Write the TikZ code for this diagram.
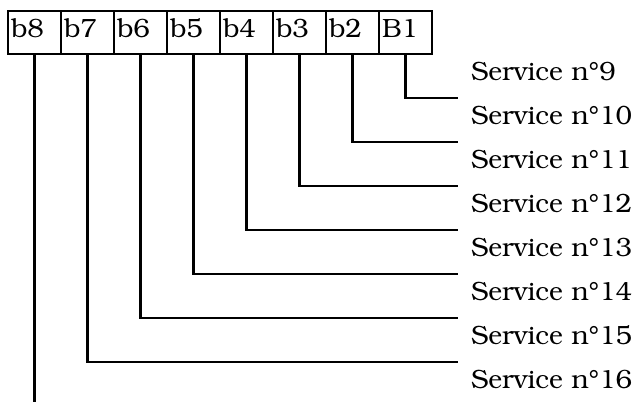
\documentclass[tikz,border=0pt]{standalone}
\usepackage[T1]{fontenc}
\usepackage{bookman}
\usetikzlibrary{positioning}
\tikzset{
  every picture/.style={line width=2.2pt},
  bit/.style={draw, outer sep=0pt, inner xsep=3pt, inner ysep=0pt, text width=47pt,
    text height=26.3pt, text depth=17pt, align=left, font=\fontsize{26.4}{30}\selectfont},
  service/.style={outer sep=0pt, inner xsep=13pt, inner ysep=0pt, text height=26pt,
    text depth=18pt, font=\fontsize{26.4}{30}\selectfont},
}
\begin{document}
\begin{tikzpicture}[x=1pt, y=-1pt]
  \useasboundingbox (0,0) rectangle (632,402);
  % register bits
  \node[bit, anchor=north west] (b8) at (8,10.7) {b8};
  \node[bit, right=0pt of b8] (b7) {b7};
  \node[bit, right=0pt of b7] (b6) {b6};
  \node[bit, right=0pt of b6] (b5) {b5};
  \node[bit, right=0pt of b5] (b4) {b4};
  \node[bit, right=0pt of b4] (b3) {b3};
  \node[bit, right=0pt of b3] (b2) {b2};
  \node[bit, right=0pt of b2] (B1) {B1};
  % services
  \node[service, anchor=south west] (s9) at (458,98) {Service n\textdegree9};
  \node[service, below=0pt of s9.south west, anchor=north west] (s10) {Service n\textdegree10};
  \node[service, below=0pt of s10.south west, anchor=north west] (s11) {Service n\textdegree11};
  \node[service, below=0pt of s11.south west, anchor=north west] (s12) {Service n\textdegree12};
  \node[service, below=0pt of s12.south west, anchor=north west] (s13) {Service n\textdegree13};
  \node[service, below=0pt of s13.south west, anchor=north west] (s14) {Service n\textdegree14};
  \node[service, below=0pt of s14.south west, anchor=north west] (s15) {Service n\textdegree15};
  \node[service, below=0pt of s15.south west, anchor=north west] (s16) {Service n\textdegree16};
  \coordinate (b8end) at (b8.south |- 0,402);
  % wiring
  \draw (B1.south) |- (s9.south west);
  \draw (b2.south) |- (s10.south west);
  \draw (b3.south) |- (s11.south west);
  \draw (b4.south) |- (s12.south west);
  \draw (b5.south) |- (s13.south west);
  \draw (b6.south) |- (s14.south west);
  \draw (b7.south) |- (s15.south west);
  \draw (b8.south) -- (b8end);
\end{tikzpicture}
\end{document}
